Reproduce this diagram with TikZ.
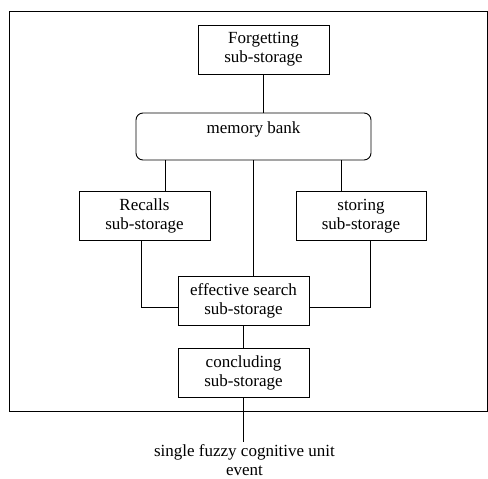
\documentclass[tikz,border=0pt]{standalone}
\usepackage{fontspec}
\setmainfont{Liberation Serif}
\usetikzlibrary{positioning}
\tikzset{
  store/.style={draw, line width=0.9pt, minimum width=131pt, minimum height=49pt, inner sep=0pt, align=center, font=\fontsize{17}{19}\selectfont},
  bank/.style={store, rounded corners=7pt, minimum width=235pt, minimum height=47pt, text height=12pt, text depth=19pt},
  link/.style={line width=0.9pt}
}
\begin{document}
\begin{tikzpicture}[x=1pt,y=-1pt]
\useasboundingbox (0,0) rectangle (488,479);

%Outer frame
\draw [link] (9,11) rectangle (487,411);

%Storages
\node [store] (forget) at (263.5,49.5) {Forgetting\\sub-storage};
\node [bank] (memory) at (253.5,136.5) {memory bank};
\node [store] (recall) at (144.5,216) {Recalls\\sub-storage};
\node [store, minimum width=130pt] (storing) at (361,216) {storing\\sub-storage};
\node [store] (search) at (243.5,300.5) {effective search\\sub-storage};
\node [store] (conclude) at (243.5,372.5) {concluding\\sub-storage};
\node [align=center, inner sep=0pt, anchor=north, font=\fontsize{17}{19}\selectfont] (event) at (244.5,444) {single fuzzy cognitive unit\\event};

%Links
\coordinate (rtop) at ([xshift=20.5pt]recall.north);
\coordinate (stop) at ([xshift=-20pt]storing.north);
\draw [link] (forget.south) -- (forget.south |- memory.north);
\draw [link] (rtop) -- (rtop |- memory.south);
\draw [link] (stop) -- (stop |- memory.south);
\draw [link] (memory.south) -- (memory.south |- search.north);
\draw [link] ([xshift=-3.5pt]recall.south) |- ([yshift=-6.5pt]search.west);
\draw [link] ([xshift=9pt]storing.south) |- ([yshift=-6.5pt]search.east);
\draw [link] (search.south) -- (conclude.north);
\draw [link] (conclude.south) -- (conclude.south |- 0,442);

\end{tikzpicture}
\end{document}
